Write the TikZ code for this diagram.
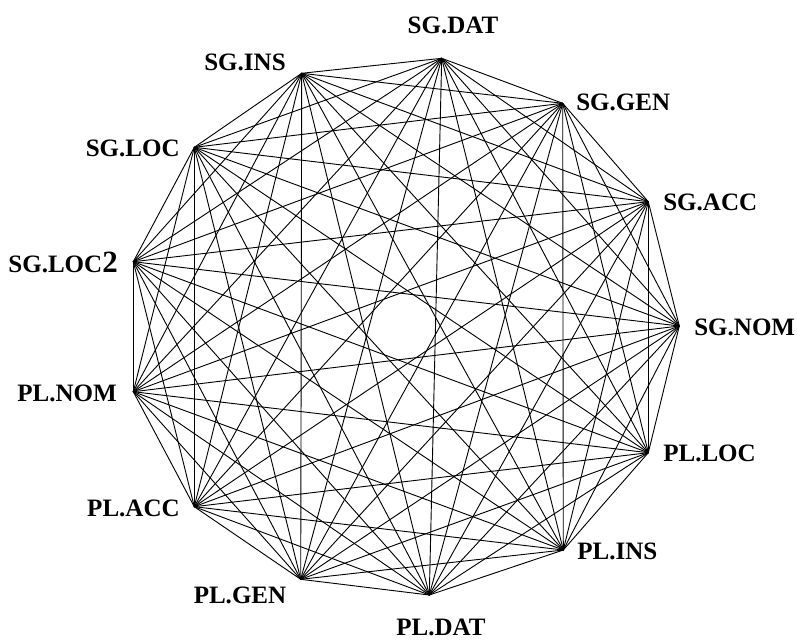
\documentclass[tikz,border=0pt]{standalone}
\usepackage{fontspec}
\setmainfont{Liberation Serif}
\begin{document}
\begin{tikzpicture}[x=0.025cm,y=-0.025cm,
  lbl/.style={font=\bfseries\fontsize{17.8}{20}\selectfont, inner sep=0pt},
  edge/.style={line width=0.65pt, line cap=round}]
\useasboundingbox (0,0) rectangle (797,639);
\coordinate (v0) at (679.3,326.0);   % SG.NOM
\coordinate (v1) at (648.3,201.7);   % SG.ACC
\coordinate (v2) at (562.7,103.3);   % SG.GEN
\coordinate (v3) at (441.7,58.3);    % SG.DAT
\coordinate (v4) at (301.7,73.3);    % SG.INS
\coordinate (v5) at (194.3,147.3);   % SG.LOC
\coordinate (v6) at (133.3,261.7);   % SG.LOC2
\coordinate (v7) at (133.3,391.7);   % PL.NOM
\coordinate (v8) at (194.3,506.7);   % PL.ACC
\coordinate (v9) at (300.7,579.3);   % PL.GEN
\coordinate (v10) at (429.3,595.0);  % PL.DAT
\coordinate (v11) at (563.3,550.0);  % PL.INS
\coordinate (v12) at (648.3,452.7);  % PL.LOC
\foreach \i in {0,...,11}{
  \pgfmathtruncatemacro\k{\i+1}
  \foreach \j in {\k,...,12}{
    \draw[edge] (v\i) -- (v\j);
  }
}
\node[lbl, anchor=west] (l0) at (694,327) {SG.NOM};
\node[lbl, anchor=west] (l1) at (663,202) {SG.ACC};
\node[lbl, anchor=west] (l2) at (576,102) {SG.GEN};
\node[lbl] (l3) at (453,25) {SG.DAT};
\node[lbl] (l4) at (245,62) {SG.INS};
\node[lbl, anchor=east] (l5) at (180,148) {SG.LOC};
\node[lbl, anchor=east] (l6) at (118,262) {SG.LOC{\fontsize{22}{24}\selectfont 2}};
\node[lbl, anchor=east] (l7) at (117,393) {PL.NOM};
\node[lbl, anchor=east] (l8) at (180,508) {PL.ACC};
\node[lbl] (l9) at (240,595) {PL.GEN};
\node[lbl] (l10) at (441,627) {PL.DAT};
\node[lbl, anchor=west] (l11) at (577,551) {PL.INS};
\node[lbl, anchor=west] (l12) at (663,453) {PL.LOC};
\end{tikzpicture}
\end{document}
